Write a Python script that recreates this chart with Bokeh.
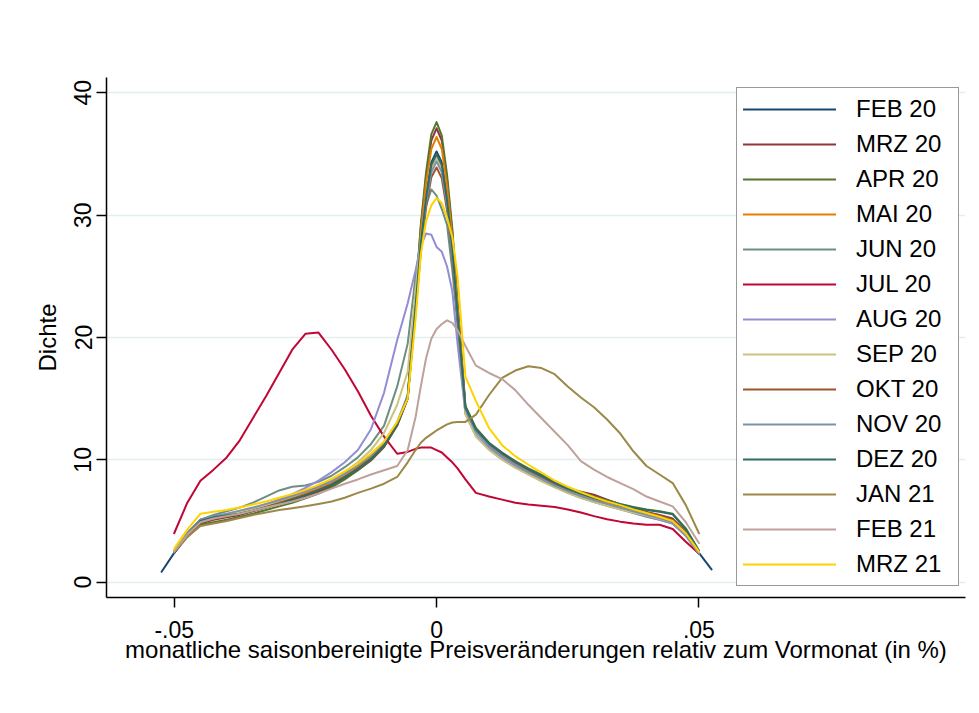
from bokeh.plotting import figure
from bokeh.models import Legend, LegendItem, FixedTicker
from bokeh.embed import file_html
from bokeh.resources import INLINE

nan = float("nan")

# shared x grid (price change relative to previous month)
X = [-0.0524, -0.05, -0.0475, -0.045, -0.0425, -0.04, -0.0375, -0.035, -0.0325, -0.03,
     -0.0275, -0.025, -0.0225, -0.02, -0.0175, -0.015, -0.0125, -0.01, -0.0075, -0.0055,
     -0.004, -0.003, -0.002, -0.001, 0.0, 0.001, 0.002, 0.003, 0.004,
     0.0055, 0.0075, 0.01, 0.0125, 0.015, 0.0175, 0.02, 0.0225, 0.025, 0.0275,
     0.03, 0.0325, 0.035, 0.0375, 0.04, 0.0425, 0.045, 0.0475, 0.05, 0.0524]

LABELS = ["FEB 20", "MRZ 20", "APR 20", "MAI 20", "JUN 20", "JUL 20", "AUG 20",
          "SEP 20", "OKT 20", "NOV 20", "DEZ 20", "JAN 21", "FEB 21", "MRZ 21"]

COLORS = ["#1a476f", "#90353b", "#55752f", "#e37e00", "#6e8e84", "#c10534", "#938dd2",
          "#cac27e", "#a0522d", "#7b92a8", "#2d6d66", "#9c8847", "#bfa19c", "#ffd200"]

FEB20 = [0.85, 2.4, 4.0, 5.1, 5.4, 5.5, 5.7, 5.9, 6.2, 6.5, 6.85, 7.2, 7.6, 8.05, 8.65, 9.35, 10.15, 11.25, 12.9, 15.0,
         22.6, 27.8, 31.5, 34.3, 35.2, 34.3, 31.3, 27.4, 22.0,
         14.2, 12.4, 11.2, 10.45, 9.75, 9.15, 8.6, 8.05, 7.55, 7.15, 6.8, 6.5, 6.25, 5.95, 5.65, 5.35, 5.0, 3.9, 2.4, 1.05]
MRZ20 = [nan, 2.4, 3.8, 4.8, 5.1, 5.3, 5.5, 5.8, 6.1, 6.4, 6.7, 7.0, 7.4, 7.85, 8.45, 9.15, 9.95, 11.05, 12.8, 15.0,
         23.4, 29.0, 33.1, 36.1, 37.1, 36.1, 32.9, 28.6, 22.7,
         14.3, 12.5, 11.3, 10.5, 9.8, 9.2, 8.65, 8.1, 7.65, 7.4, 7.15, 6.75, 6.35, 6.0, 5.75, 5.5, 5.2, 4.1, 2.5, nan]
APR20 = [nan, 2.4, 3.7, 4.7, 4.9, 5.1, 5.35, 5.6, 5.9, 6.2, 6.5, 6.85, 7.25, 7.75, 8.4, 9.15, 10.0, 11.1, 12.9, 15.2,
         23.5, 29.2, 33.5, 36.6, 37.6, 36.5, 33.3, 28.9, 22.9,
         14.4, 12.6, 11.4, 10.6, 9.9, 9.3, 8.8, 8.25, 7.75, 7.35, 7.0, 6.7, 6.4, 6.15, 5.95, 5.8, 5.6, 4.4, 2.6, nan]
MAI20 = [nan, 2.5, 3.9, 5.0, 5.3, 5.5, 5.7, 5.95, 6.25, 6.55, 6.9, 7.25, 7.65, 8.1, 8.7, 9.4, 10.2, 11.3, 13.0, 15.1,
         23.0, 28.5, 32.6, 35.4, 36.4, 35.4, 32.4, 28.1, 22.4,
         14.2, 12.4, 11.2, 10.4, 9.7, 9.1, 8.55, 8.0, 7.5, 7.1, 6.75, 6.45, 6.15, 5.85, 5.55, 5.3, 4.95, 3.9, 2.4, nan]
JUN20 = [nan, 2.5, 4.0, 5.1, 5.5, 5.8, 6.1, 6.5, 7.0, 7.5, 7.8, 7.9, 8.2, 8.7, 9.4, 10.2, 11.3, 12.8, 16.0, 19.5,
         25.0, 28.0, 30.8, 32.1, 31.6, 30.5, 29.2, 25.5, 21.0,
         13.8, 12.0, 10.9, 10.1, 9.45, 8.85, 8.3, 7.8, 7.3, 6.9, 6.55, 6.25, 5.95, 5.65, 5.35, 5.1, 4.8, 3.8, 2.3, nan]
JUL20 = [nan, 4.0, 6.5, 8.3, 9.2, 10.2, 11.6, 13.4, 15.2, 17.1, 19.0, 20.3, 20.4, 19.0, 17.4, 15.6, 13.6, 11.9, 10.5, 10.65,
         10.9, 11.0, 11.0, 11.0, 10.8, 10.6, 10.2, 9.8, 9.3,
         8.4, 7.3, 7.0, 6.75, 6.5, 6.35, 6.25, 6.15, 5.95, 5.7, 5.4, 5.15, 4.95, 4.8, 4.7, 4.7, 4.35, 3.3, 2.35, nan]
AUG20 = [nan, 2.5, 3.9, 5.0, 5.3, 5.5, 5.75, 6.0, 6.35, 6.75, 7.2, 7.7, 8.3, 9.0, 9.8, 10.8, 12.5, 15.5, 19.8, 22.8,
         25.5, 27.5, 28.5, 28.4, 27.4, 27.0, 25.8, 23.8, 19.5,
         13.8, 12.0, 10.9, 10.1, 9.45, 8.85, 8.35, 7.85, 7.4, 7.0, 6.65, 6.35, 6.0, 5.7, 5.4, 5.1, 4.8, 3.8, 2.35, nan]
SEP20 = [nan, 2.5, 3.9, 5.0, 5.3, 5.5, 5.75, 6.0, 6.3, 6.65, 7.0, 7.4, 7.85, 8.35, 9.0, 9.8, 10.8, 12.2, 14.5, 17.2,
         23.9, 27.9, 31.3, 33.8, 34.7, 33.8, 31.0, 27.1, 21.8,
         13.7, 11.9, 10.8, 10.0, 9.35, 8.8, 8.25, 7.75, 7.3, 6.9, 6.55, 6.25, 5.95, 5.7, 5.45, 5.2, 4.9, 3.9, 2.4, nan]
OKT20 = [nan, 2.4, 3.8, 4.9, 5.2, 5.4, 5.6, 5.85, 6.15, 6.45, 6.8, 7.15, 7.55, 8.0, 8.6, 9.3, 10.1, 11.2, 12.9, 15.1,
         22.1, 27.0, 30.6, 33.1, 33.9, 33.0, 30.4, 26.6, 21.5,
         14.2, 12.4, 11.25, 10.45, 9.75, 9.15, 8.6, 8.05, 7.6, 7.25, 6.95, 6.6, 6.3, 6.0, 5.7, 5.45, 5.1, 4.0, 2.45, nan]
NOV20 = [nan, 2.5, 4.0, 5.1, 5.4, 5.6, 5.85, 6.1, 6.4, 6.7, 7.05, 7.4, 7.8, 8.25, 8.85, 9.55, 10.35, 11.45, 13.1, 15.3,
         22.3, 27.3, 31.0, 33.5, 34.4, 33.5, 30.8, 26.9, 21.7,
         14.1, 12.3, 11.1, 10.3, 9.6, 9.0, 8.45, 7.9, 7.45, 7.05, 6.7, 6.4, 6.1, 5.8, 5.5, 5.25, 4.9, 3.9, 2.4, nan]
DEZ20 = [nan, 2.4, 3.9, 5.0, 5.3, 5.45, 5.6, 5.85, 6.1, 6.4, 6.75, 7.1, 7.5, 7.95, 8.55, 9.25, 10.05, 11.15, 12.9, 15.1,
         22.5, 27.7, 31.4, 34.1, 35.0, 34.1, 31.2, 27.3, 21.9,
         14.3, 12.5, 11.35, 10.55, 9.85, 9.25, 8.7, 8.15, 7.65, 7.25, 6.9, 6.6, 6.35, 6.1, 5.9, 5.75, 5.55, 4.3, 2.55, nan]
JAN21 = [nan, 2.5, 3.7, 4.6, 4.8, 5.0, 5.25, 5.5, 5.7, 5.9, 6.05, 6.2, 6.4, 6.6, 6.9, 7.3, 7.65, 8.05, 8.6, 9.8,
         10.8, 11.4, 11.8, 12.1, 12.4, 12.65, 12.9, 13.05, 13.1,
         13.1, 13.7, 15.3, 16.7, 17.3, 17.65, 17.5, 17.0, 16.0, 15.1, 14.3, 13.3, 12.15, 10.7, 9.5, 8.8, 8.1, 6.3, 4.0, nan]
FEB21 = [nan, 2.5, 3.9, 4.9, 5.2, 5.4, 5.6, 5.85, 6.1, 6.35, 6.6, 6.9, 7.25, 7.65, 8.05, 8.4, 8.8, 9.15, 9.5, 10.8,
         13.5, 16.0, 18.3, 19.9, 20.7, 21.1, 21.4, 21.2, 20.6,
         19.3, 17.7, 17.1, 16.6, 15.7, 14.5, 13.4, 12.3, 11.2, 9.9, 9.2, 8.6, 8.1, 7.6, 7.0, 6.6, 6.2, 4.9, 3.2, nan]
MRZ21 = [nan, 2.75, 4.3, 5.6, 5.75, 5.9, 6.1, 6.35, 6.6, 6.9, 7.2, 7.55, 7.95, 8.45, 9.05, 9.7, 10.5, 11.5, 13.1, 15.0,
         21.5, 26.8, 29.5, 30.8, 31.4, 31.0, 29.8, 28.2, 25.0,
         16.8, 14.8, 12.6, 11.2, 10.3, 9.6, 8.95, 8.3, 7.8, 7.35, 6.95, 6.6, 6.3, 5.95, 5.65, 5.35, 5.0, 4.0, 2.5, nan]

SERIES = [FEB20, MRZ20, APR20, MAI20, JUN20, JUL20, AUG20,
          SEP20, OKT20, NOV20, DEZ20, JAN21, FEB21, MRZ21]

Y_TICKS = [0, 10, 20, 30, 40]
X_TICKS = [-0.05, 0.0, 0.05]
X_TICK_LABELS = {-0.05: "-.05", 0.0: "0", 0.05: ".05"}

FONT = "Liberation Sans"

p = figure(width=969, height=701, x_range=(-0.0629, 0.1008), y_range=(-1.25, 41.25),
           output_backend="svg", toolbar_location=None,
           min_border_left=106, min_border_right=4, min_border_top=77, min_border_bottom=104,
           x_axis_label="monatliche saisonbereinigte Preisveränderungen relativ zum Vormonat (in %)",
           y_axis_label="Dichte")

p.outline_line_color = None
p.background_fill_color = "white"
p.border_fill_color = "white"
p.xgrid.visible = False
p.ygrid.grid_line_color = "#e4edf0"
p.ygrid.grid_line_width = 1.5

p.xaxis.ticker = FixedTicker(ticks=X_TICKS)
p.xaxis.major_label_overrides = X_TICK_LABELS
p.yaxis.ticker = FixedTicker(ticks=Y_TICKS)
p.yaxis.major_label_orientation = "vertical"

for ax in (p.xaxis, p.yaxis):
    ax.axis_line_color = "black"
    ax.axis_line_width = 1.5
    ax.major_tick_line_color = "black"
    ax.major_tick_line_width = 1.5
    ax.major_tick_out = 10
    ax.major_tick_in = 0
    ax.minor_tick_line_color = None
    ax.major_label_text_font = FONT
    ax.major_label_text_font_size = "23px"
    ax.major_label_text_color = "black"
    ax.axis_label_text_font = FONT
    ax.axis_label_text_font_size = "24px"
    ax.axis_label_text_font_style = "normal"
    ax.axis_label_text_color = "black"

p.xaxis.major_label_standoff = 13
p.xaxis.axis_label_standoff = -5
p.yaxis.major_label_standoff = 5
p.yaxis.axis_label_standoff = 11

items = []
for lab, col, ys in zip(LABELS, COLORS, SERIES):
    r = p.line(X, ys, line_color=col, line_width=2, line_join="round", line_cap="round")
    items.append(LegendItem(label=lab, renderers=[r]))

legend = Legend(items=items, location=(630, 11))
legend.border_line_color = "#333333"
legend.border_line_width = 1
legend.background_fill_color = "white"
legend.background_fill_alpha = 1.0
legend.padding = 6
legend.spacing = 5
legend.margin = 0
legend.glyph_width = 93
legend.glyph_height = 30
legend.label_height = 30
legend.label_width = 96
legend.label_standoff = 20
legend.label_text_font = FONT
legend.label_text_font_size = "24px"
legend.label_text_color = "black"
p.add_layout(legend)

open("out.html", "w").write(file_html(p, INLINE))
